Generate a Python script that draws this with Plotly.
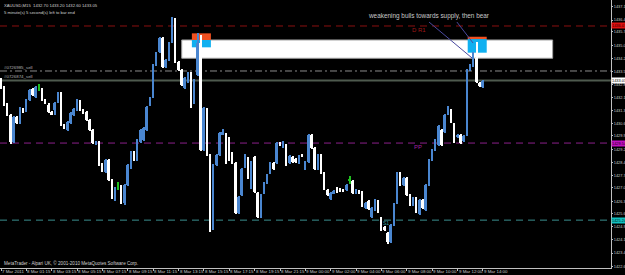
import plotly.graph_objects as go

# ---------------- data (XAUUSD M15, bar index 0..152) ----------------
opens = [
 1433.06,1432.61,1431.66,1431.10,1429.60,1430.99,1430.66,1431.38,1431.38,1431.94,
 1432.55,1432.11,1432.67,1432.55,1431.94,1431.66,1431.27,1431.38,1431.83,1432.33,
 1430.55,1430.27,1430.66,1431.10,1431.38,1431.88,1431.38,1431.27,1430.82,1430.27,
 1429.48,1429.60,1428.31,1427.92,1428.59,1427.48,1426.36,1427.14,1427.14,1426.19,
 1427.20,1428.20,1429.04,1428.59,1429.60,1429.71,1430.27,1431.66,1432.67,1433.89,
 1434.62,1435.40,1433.78,1434.17,1435.18,1436.40,1434.06,1433.61,1432.61,1432.94,
 1433.45,1431.77,1433.33,1435.12,1429.15,1431.44,1428.87,1424.80,1428.31,1428.87,
 1430.04,1430.04,1429.82,1428.98,1428.42,1425.63,1426.64,1428.20,1428.70,1427.03,
 1428.76,1426.75,1425.41,1426.75,1427.31,1427.87,1428.42,1428.42,1429.54,1429.32,
 1429.43,1428.42,1428.76,1428.65,1428.42,1428.87,1428.09,1428.48,1429.99,1429.26,
 1428.09,1428.87,1427.87,1426.92,1426.42,1426.75,1427.03,1426.97,1426.92,1426.92,
 1427.48,1427.42,1426.75,1426.86,1426.81,1425.91,1426.30,1425.41,1425.80,1426.30,
 1425.36,1424.85,1424.52,1424.02,1424.96,1426.19,1427.87,1427.20,1427.59,1426.64,
 1426.08,1426.47,1425.58,1426.36,1425.80,1427.20,1428.59,1429.15,1429.43,1430.27,
 1430.15,1431.16,1431.38,1430.60,1429.87,1429.99,1429.65,1429.99,1433.61,1433.84,
 1434.28,1432.89,1432.67]
closes = [
 1432.61,1431.66,1431.10,1429.60,1430.99,1430.66,1431.49,1431.27,1431.94,1432.50,
 1432.22,1432.67,1432.66,1431.94,1431.77,1431.27,1431.16,1431.77,1432.33,1430.55,
 1430.38,1430.71,1431.21,1431.44,1431.94,1431.38,1431.21,1430.82,1430.27,1429.54,
 1429.60,1428.31,1428.03,1428.59,1427.48,1426.47,1427.03,1427.15,1426.19,1427.20,
 1428.31,1429.04,1428.59,1429.71,1430.27,1430.38,1431.55,1432.05,1433.89,1434.56,
 1435.40,1433.78,1434.17,1435.12,1436.40,1434.06,1433.61,1432.78,1433.17,1433.45,
 1431.55,1433.06,1435.12,1429.15,1431.49,1428.87,1424.74,1428.31,1428.87,1430.10,
 1430.15,1428.42,1428.59,1428.42,1425.63,1426.53,1428.09,1428.87,1427.59,1428.48,
 1426.81,1425.41,1426.64,1427.31,1427.76,1428.42,1428.09,1429.54,1429.43,1429.60,
 1428.31,1428.82,1428.48,1428.48,1428.82,1428.82,1428.48,1429.99,1429.26,1428.09,
 1428.87,1427.87,1426.97,1426.64,1426.75,1426.86,1426.81,1426.86,1426.86,1427.20,
 1427.47,1426.75,1426.92,1426.75,1426.03,1426.19,1425.86,1425.91,1426.36,1425.69,
 1424.69,1424.69,1424.02,1424.96,1426.14,1427.87,1427.20,1427.59,1426.64,1426.08,
 1426.47,1425.69,1426.36,1425.91,1427.20,1428.59,1429.15,1429.71,1430.49,1429.43,
 1431.10,1431.55,1430.71,1429.60,1429.99,1429.54,1429.93,1433.61,1433.89,1434.28,
 1432.94,1432.72,1433.00]
highs = [
 1433.15,1432.70,1431.75,1431.15,1431.05,1431.05,1431.55,1431.50,1432.00,1432.55,
 1432.60,1432.75,1432.83,1432.62,1432.00,1431.75,1431.33,1431.85,1432.40,1432.40,
 1430.60,1430.78,1431.28,1431.50,1432.00,1431.95,1431.42,1431.32,1430.88,1430.32,
 1429.66,1429.66,1428.40,1428.65,1428.65,1427.55,1427.10,1427.36,1427.20,1427.26,
 1428.38,1429.10,1429.10,1429.78,1430.33,1430.45,1431.60,1432.12,1433.95,1434.62,
 1435.46,1435.46,1434.23,1435.18,1436.57,1436.52,1434.12,1433.68,1433.23,1433.52,
 1433.52,1433.12,1435.68,1435.57,1431.55,1431.50,1428.93,1428.38,1428.93,1430.16,
 1430.32,1430.10,1429.88,1429.04,1428.48,1426.60,1428.15,1428.93,1428.76,1428.54,
 1428.82,1426.81,1426.70,1427.37,1427.82,1428.48,1428.48,1429.60,1429.60,1429.68,
 1429.49,1428.88,1428.82,1428.70,1428.88,1428.93,1428.54,1430.05,1430.05,1429.32,
 1428.93,1428.93,1427.93,1426.98,1426.81,1426.92,1427.09,1427.03,1426.98,1427.26,
 1427.70,1427.48,1426.98,1426.92,1426.87,1426.25,1426.36,1425.97,1426.42,1426.36,
 1425.42,1424.91,1424.58,1425.02,1426.20,1427.93,1427.93,1427.65,1427.65,1426.70,
 1426.53,1426.53,1426.42,1426.42,1427.26,1428.65,1429.21,1429.77,1430.55,1430.33,
 1431.16,1431.61,1431.44,1430.66,1430.05,1430.05,1429.99,1433.67,1433.95,1434.62,
 1435.18,1432.95,1433.06]
lows = [
 1432.55,1431.60,1431.05,1429.50,1429.55,1430.60,1430.60,1431.20,1431.30,1431.90,
 1432.15,1432.05,1432.44,1431.90,1431.70,1431.20,1431.10,1431.10,1431.75,1430.50,
 1430.30,1430.20,1430.60,1431.05,1431.32,1431.32,1431.15,1430.76,1430.20,1429.48,
 1429.42,1428.25,1427.95,1427.85,1427.40,1426.40,1426.28,1426.92,1426.12,1426.10,
 1427.14,1428.12,1428.52,1428.52,1429.55,1429.65,1430.20,1431.60,1432.05,1433.82,
 1434.55,1433.72,1433.72,1434.10,1435.12,1434.00,1433.55,1432.72,1432.55,1432.88,
 1431.48,1431.70,1433.26,1429.08,1429.08,1428.80,1424.57,1424.70,1428.25,1428.80,
 1429.98,1428.36,1428.52,1428.36,1425.56,1425.56,1426.58,1428.14,1427.52,1426.97,
 1426.75,1425.35,1425.35,1426.69,1427.25,1427.81,1428.03,1428.36,1429.37,1429.26,
 1428.25,1428.36,1428.42,1428.42,1428.36,1428.76,1428.03,1428.42,1429.20,1428.03,
 1428.03,1427.81,1426.91,1426.58,1426.36,1426.69,1426.75,1426.80,1426.80,1426.86,
 1427.25,1426.69,1426.69,1426.69,1425.97,1425.85,1425.80,1425.35,1425.74,1425.63,
 1424.63,1424.63,1423.90,1423.96,1424.90,1426.13,1427.14,1427.14,1426.58,1426.02,
 1426.02,1425.63,1425.52,1425.85,1425.74,1427.14,1428.53,1429.09,1429.37,1429.37,
 1430.09,1431.10,1430.65,1429.54,1429.81,1429.48,1429.59,1429.93,1433.55,1433.78,
 1432.88,1432.66,1432.61]
doji_bars = [12, 37, 110]

# horizontal levels
level_r1 = 1436.07
level_order1 = 1433.56
level_bid = 1433.03
level_pp = 1429.54
level_s1 = 1425.24

# supply zone & markers (bar index / price)
zone_bars = [57.0, 174.0]
zone_prices = [1434.27, 1435.29]
marker1_bars = [60.2, 66.2]
marker2_bars = [147.2, 153.2]
marker1_orange = [1435.29, 1435.66]
marker1_cyan = [1434.88, 1435.29]
marker2_orange = [1435.34, 1435.47]
marker2_cyan = [1434.58, 1435.34]

# callout lines
callout1 = dict(x=[135.0, 148.6], y=[1436.29, 1434.28])
callout2 = dict(x=[143.8, 148.9], y=[1436.29, 1435.12])

price_ticks = [1437.15,1436.40,1435.75,1435.00,1434.25,1433.55,1432.80,1432.10,1431.35,1430.65,
               1429.95,1429.20,1428.45,1427.75,1427.05,1426.30,1425.60,1424.90,1424.15,1423.40,1422.65]
time_labels = ["7 Mar 2011","8 Mar 01:15","8 Mar 03:15","8 Mar 05:15","8 Mar 07:15","8 Mar 09:15",
               "8 Mar 11:15","8 Mar 13:15","8 Mar 15:15","8 Mar 17:15","8 Mar 19:15","8 Mar 21:15",
               "9 Mar 00:00","9 Mar 02:00","9 Mar 04:00","9 Mar 06:00","9 Mar 08:00","9 Mar 10:00",
               "9 Mar 12:00","9 Mar 14:00"]
time_label_bars = [8 * k for k in range(len(time_labels))]

# ---------------- figure ----------------
BULL = "#4a86d0"
BEAR = "#ffffff"
DOJI = "#1fbf1f"
FONT = "Liberation Sans, Arial, sans-serif"

idx = list(range(len(opens)))
colors = [DOJI if i in doji_bars else (BULL if closes[i] >= opens[i] else BEAR) for i in idx]
body_base = [min(opens[i], closes[i]) for i in idx]
body_len = [max(abs(closes[i] - opens[i]), 0.02) for i in idx]
wick_len = [highs[i] - lows[i] for i in idx]

fig = go.Figure()
fig.add_trace(go.Bar(x=idx, y=wick_len, base=lows, width=0.32,
                     marker=dict(color=colors, line=dict(width=0)),
                     showlegend=False, hoverinfo="skip"))
fig.add_trace(go.Bar(x=idx, y=body_len, base=body_base, width=0.62,
                     marker=dict(color=colors, line=dict(width=0)),
                     showlegend=False, hoverinfo="skip"))

for c in (callout1, callout2):
    fig.add_trace(go.Scatter(x=c["x"], y=c["y"], mode="lines",
                             line=dict(color="#4a4aa0", width=1),
                             showlegend=False, hoverinfo="skip"))

shapes = []
def hline(y, color, dash, width=1):
    shapes.append(dict(type="line", xref="paper", x0=0, x1=1, yref="y", y0=y, y1=y,
                       line=dict(color=color, width=width, dash=dash), layer="below"))

hline(level_r1, "#8b1010", "7px,5px")
hline(level_order1, "#8a8a8a", "7px,3px,2px,3px")
hline(level_bid, "#4e5a4e", "solid", 2)
hline(level_pp, "#8a1f8a", "7px,5px")
hline(level_s1, "#3a8f8f", "7px,5px")

shapes.append(dict(type="rect", xref="x", yref="y", x0=zone_bars[0], x1=zone_bars[1],
                   y0=zone_prices[0], y1=zone_prices[1], fillcolor="#ffffff",
                   line=dict(color="#a0a0a0", width=1), layer="below"))
for xb, ora, cya in ((marker1_bars, marker1_orange, marker1_cyan),
                     (marker2_bars, marker2_orange, marker2_cyan)):
    shapes.append(dict(type="rect", xref="x", yref="y", x0=xb[0], x1=xb[1], y0=ora[0], y1=ora[1],
                       fillcolor="#f05020", line=dict(width=0), layer="below"))
    shapes.append(dict(type="rect", xref="x", yref="y", x0=xb[0], x1=xb[1], y0=cya[0], y1=cya[1],
                       fillcolor="#10b0f0", line=dict(width=0), layer="below"))

ann = []
def text(x, y, s, color, size, xref="paper", yref="paper", xanchor="left", yanchor="middle", **kw):
    ann.append(dict(x=x, y=y, xref=xref, yref=yref, text=s, showarrow=False,
                    font=dict(color=color, size=size, family=FONT),
                    xanchor=xanchor, yanchor=yanchor, **kw))

text(0.004, 0.981, "XAUUSD,M15  1432.70 1433.20 1432.60 1433.05", "#d0d0d0", 4.2)
text(0.004, 0.955, "5 minute(s) 5 second(s) left to bar end", "#d0d0d0", 4.2)
text(0.004, 0.02, "MetaTrader - Alpari UK, © 2001-2010 MetaQuotes Software Corp.", "#d0d0d0", 4.6)
text(0.004, level_order1 + 0.2, "#0726985_sell", "#b0b0b0", 4.4, yref="y")
text(0.004, level_bid + 0.2, "#0726874_sell", "#b0b0b0", 4.4, yref="y")
text(131.9, level_r1 - 0.2, "D R1", "#a01818", 6, xref="x", yref="y", xanchor="center")
text(131.5, level_pp - 0.2, "PP", "#a020a0", 6, xref="x", yref="y", xanchor="center")
text(121.3, level_s1 - 0.14, "S1", "#3a9f9f", 5, xref="x", yref="y", xanchor="center")
text(135.0, 1436.64, "weakening bulls towards supply, then bear", "#c8c8c8", 6.4,
     xref="x", yref="y", xanchor="center")

# time axis labels (left-aligned after each tick, as in the terminal)
for b, lab in zip(time_label_bars, time_labels):
    ann.append(dict(x=b, y=0, xref="x", yref="paper", text=lab, showarrow=False,
                    font=dict(color="#c8c8c8", size=4.4, family=FONT),
                    xanchor="left", yanchor="top", xshift=0, yshift=0, borderpad=0))

for lvl, bg, fg in ((level_r1, "#e01010", "#300000"), (level_bid, "#ffffff", "#000000"),
                    (level_pp, "#c010c0", "#200020"), (level_s1, "#10c0c0", "#002020")):
    text(1, lvl, f"{lvl:.2f}", fg, 3.9, yref="y", bgcolor=bg, xshift=0, borderpad=0)

fig.update_layout(
    width=625, height=275, template="none",
    margin=dict(l=0, r=14, t=0, b=7),
    paper_bgcolor="#000000", plot_bgcolor="#000000",
    barmode="overlay", bargap=0,
    shapes=shapes, annotations=ann, showlegend=False,
    xaxis=dict(range=[-0.32, 192.4], showgrid=False,
               zeroline=False, tickvals=time_label_bars, showticklabels=False,
               ticks="outside", ticklen=2, tickcolor="#c0c0c0",
               showline=True, linecolor="#c0c0c0", linewidth=1, mirror=False,
               automargin=False),
    yaxis=dict(range=[1422.57, 1437.52], side="right", showgrid=False, zeroline=False,
               tickvals=price_ticks, ticktext=[f"{v:.2f}" for v in price_ticks],
               tickfont=dict(color="#c8c8c8", size=3.9, family=FONT),
               ticks="outside", ticklen=1, tickcolor="#c0c0c0",
               showline=True, linecolor="#c0c0c0", linewidth=1,
               ticklabelstandoff=0, automargin=False),
)

fig.write_html("out.html")
